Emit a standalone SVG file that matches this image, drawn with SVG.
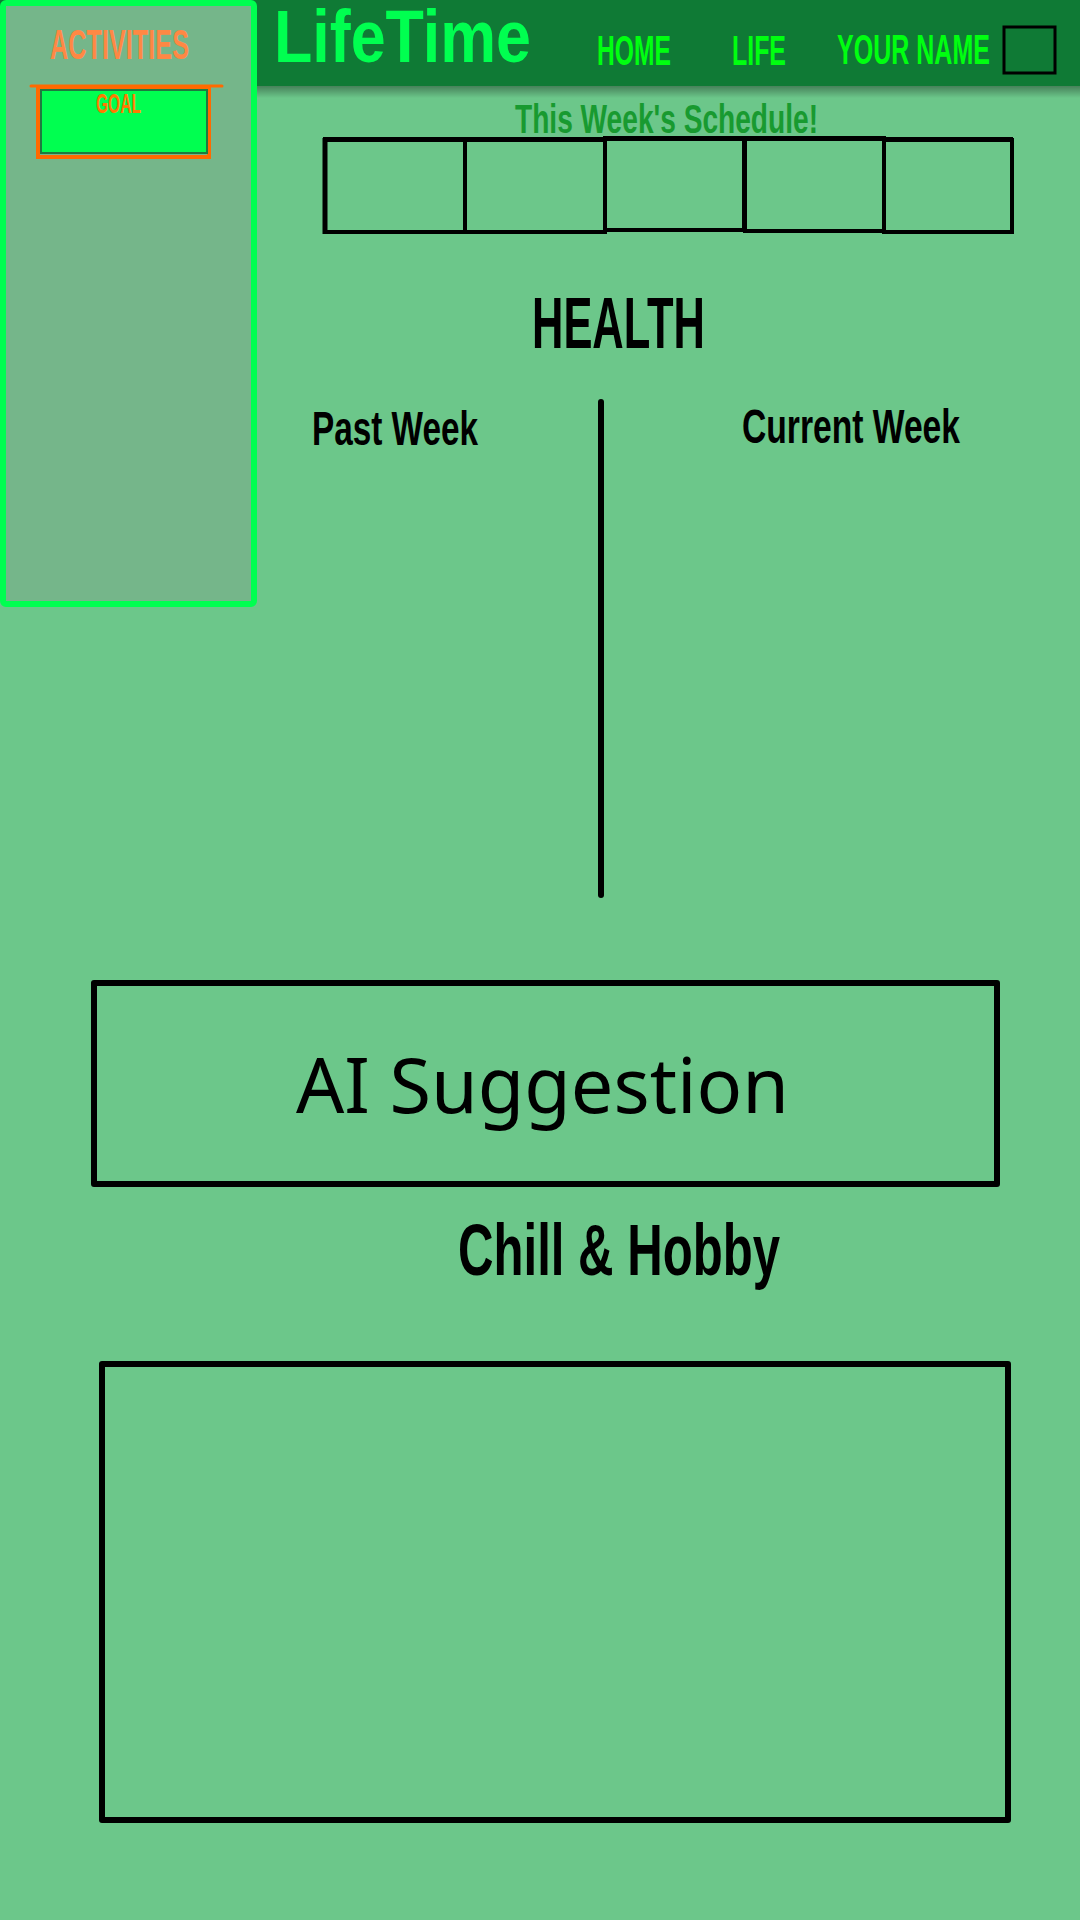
<svg xmlns="http://www.w3.org/2000/svg" width="1080" height="1920" viewBox="0 0 1080 1920">
<defs>
<linearGradient id="shadow" x1="0" y1="0" x2="0" y2="1">
<stop offset="0" stop-color="#000" stop-opacity="0.35"/>
<stop offset="1" stop-color="#000" stop-opacity="0"/>
</linearGradient>
<style>
.cond{font-family:"Liberation Sans",Arial,sans-serif;font-weight:bold;}
.box{fill:none;stroke:#000;stroke-width:6;stroke-linejoin:round;}
.cell{fill:#6cc78a;stroke:#000;stroke-width:4;}
.nav{fill:#00ff10;font-size:42px;}
</style>
</defs>
<rect x="0" y="0" width="1080" height="1920" fill="#6cc78a"/>
<g id="header">
<rect x="0" y="86" width="1080" height="12" fill="url(#shadow)"/>
<rect x="0" y="0" width="1080" height="86" fill="#0f7a35"/>
<text class="cond" x="274" y="62" font-size="74" fill="#00ff50" textLength="257" lengthAdjust="spacingAndGlyphs">LifeTime</text>
<text class="cond nav" x="597" y="65" textLength="74" lengthAdjust="spacingAndGlyphs">HOME</text>
<text class="cond nav" x="732" y="65" textLength="54" lengthAdjust="spacingAndGlyphs">LIFE</text>
<text class="cond nav" x="837" y="64" textLength="153" lengthAdjust="spacingAndGlyphs">YOUR NAME</text>
<rect x="1004" y="27" width="51" height="46" fill="none" stroke="#000" stroke-width="3"/>
</g>
<g id="sidebar">
<rect x="3" y="3" width="251" height="601" rx="3" fill="#75b68a" stroke="#00ff50" stroke-width="6"/>
<text class="cond" x="50" y="59" font-size="42" fill="#ff8844" textLength="139" lengthAdjust="spacingAndGlyphs">ACTIVITIES</text>
</g>
<g id="goal">
<line x1="31" y1="86" x2="222" y2="86" stroke="#ff6a00" stroke-width="3" stroke-linecap="round"/>
<rect x="38" y="87" width="171" height="70" fill="none" stroke="#ff6a00" stroke-width="4"/>
<rect x="41" y="90" width="166" height="63" fill="#00ff50" stroke="#1e7a40" stroke-width="2"/>
<text class="cond" x="96" y="113" font-size="28" fill="#ff7a00" textLength="45" lengthAdjust="spacingAndGlyphs">GOAL</text>
</g>
<g id="schedule">
<text class="cond" x="515" y="133" font-size="40" fill="#189a30" textLength="303" lengthAdjust="spacingAndGlyphs">This Week's Schedule!</text>
<rect class="cell" x="325" y="140" width="140" height="92"/>
<rect class="cell" x="465" y="140" width="140" height="92"/>
<rect class="cell" x="605" y="138" width="139" height="92"/>
<rect class="cell" x="745" y="138" width="139" height="93"/>
<rect class="cell" x="884" y="140" width="128" height="92"/>
<line x1="323" y1="139" x2="1013" y2="139" stroke="#000" stroke-width="4"/>
<line x1="325" y1="138" x2="325" y2="234" stroke="#000" stroke-width="5"/>
</g>
<g id="health">
<text class="cond" x="532" y="348" font-size="72" fill="#000" textLength="173" lengthAdjust="spacingAndGlyphs">HEALTH</text>
<text class="cond" x="312" y="445" font-size="49" fill="#000" textLength="166" lengthAdjust="spacingAndGlyphs">Past Week</text>
<text class="cond" x="742" y="443" font-size="49" fill="#000" textLength="218" lengthAdjust="spacingAndGlyphs">Current Week</text>
</g>
<g id="connectors">
<line x1="601" y1="402" x2="601" y2="895" stroke="#000" stroke-width="6" stroke-linecap="round"/>
</g>
<g id="ai-suggestion">
<rect class="box" x="94" y="983" width="903" height="201"/>
<text x="296" y="1113" font-family="'Noto Sans','Open Sans',sans-serif" font-size="77" fill="#000" textLength="493" lengthAdjust="spacingAndGlyphs">AI Suggestion</text>
</g>
<g id="chill-hobby">
<text class="cond" x="458" y="1275" font-size="73" fill="#000" textLength="322" lengthAdjust="spacingAndGlyphs">Chill &amp; Hobby</text>
<rect class="box" x="102" y="1364" width="906" height="456"/>
</g>
</svg>
